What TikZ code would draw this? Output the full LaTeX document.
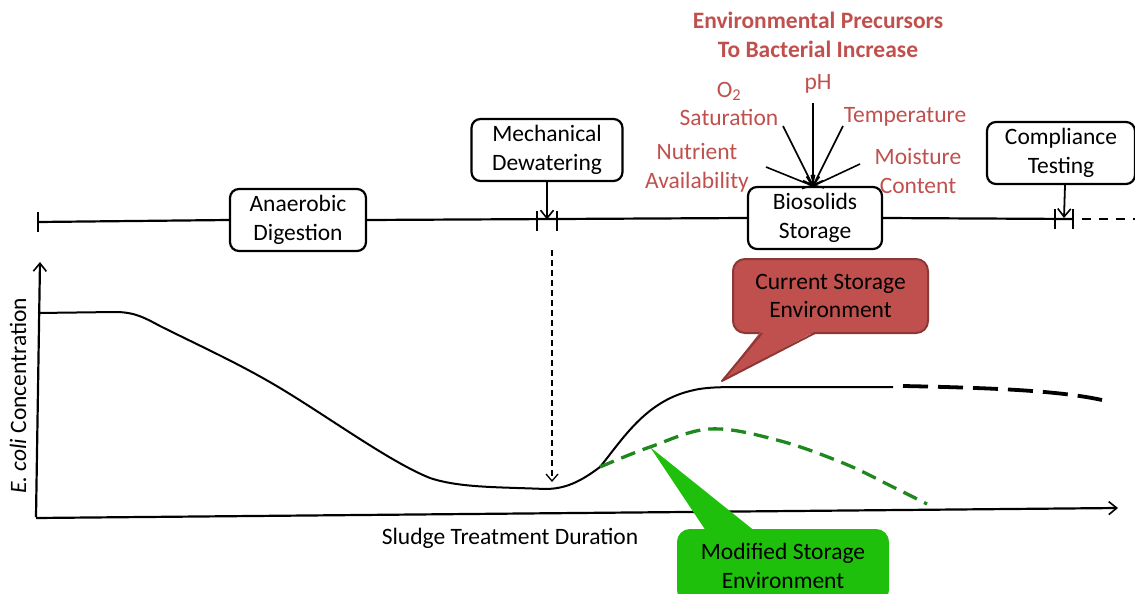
\documentclass[tikz,border=0pt]{standalone}
\usepackage{fontspec}
\setmainfont{Carlito}
\usetikzlibrary{arrows.meta,calc}
\definecolor{redtext}{RGB}{192,80,77}
\definecolor{redfill}{RGB}{192,80,77}
\definecolor{redline}{RGB}{140,56,54}
\definecolor{greenfill}{RGB}{30,192,12}
\definecolor{greendash}{RGB}{30,135,30}
\begin{document}
\begin{tikzpicture}[x=1pt,y=-1pt,
  every node/.style={font=\fontsize{23.5}{28.7}\selectfont, align=center, inner sep=0pt},
  stagebox/.style={draw, line width=2.2pt, rounded corners=9pt, fill=white, minimum height=62pt},
  redlabel/.style={text=redtext},
  tip/.style={-{Straight Barb[length=8pt,width=13pt,line width=1.6pt]}},
  axisline/.style={line width=2.2pt},
  curve/.style={line width=2pt},
  callred/.style={fill=redfill, draw=redline, line width=2pt},
  callgreen/.style={fill=greenfill, draw=greenfill, line width=2pt},
]
\useasboundingbox (0,0) rectangle (1135,594);
% title and factors
\node[redlabel, font=\fontsize{23.5}{28.5}\selectfont\bfseries] (title) at (818,35) {Environmental Precursors\\To Bacterial Increase};
\node[redlabel] (ph) at (818,84) {pH};
\node[redlabel] (o2) at (729,104) {O\textsubscript{2}\\Saturation};
\node[redlabel] (temp) at (905,117) {Temperature};
\node[redlabel] (nut) at (697,168) {Nutrient\\Availability};
\node[redlabel] (moist) at (918,171) {Moisture\\Content};
% stage boxes
\node[stagebox, minimum width=136pt] (anaer) at (298,220) {Anaerobic\\Digestion};
\node[stagebox, minimum width=151pt] (mech) at (547,150) {Mechanical\\Dewatering};
\node[stagebox, minimum width=134pt] (bio) at (815,218) {Biosolids\\Storage};
\node[stagebox, minimum width=148pt] (comp) at (1061,153) {Compliance\\Testing};
% timeline
\coordinate (tstart) at (38,222);
\coordinate (m1) at (537,220.5);
\coordinate (m2) at (557,220.5);
\coordinate (c1) at (1055,219);
\coordinate (c2) at (1073,219);
\coordinate (tend) at (1135,219);
\draw[axisline] (tstart) -- (anaer.west);
\draw[axisline] (anaer.east) -- (bio.west);
\draw[axisline] (bio.east) -- (c2);
\draw[axisline, dash pattern=on 9pt off 8pt] ([xshift=9pt]c2) -- (tend);
\foreach \p in {tstart,m1,m2,c1,c2}
  \draw[axisline] ([yshift=-10pt]\p) -- ([yshift=10pt]\p);
\draw[line width=1.8pt, tip] (mech.south) -- ($(m1)!0.5!(m2)+(0,-1)$);
\draw[line width=1.8pt, tip] ([xshift=4pt]comp.south) -- ($(c1)!0.5!(c2)+(0,-1)$);
% precursor arrows
\coordinate (conv) at (813,186);
\coordinate (phs) at (813,103);
\coordinate (o2s) at (783,126);
\coordinate (temps) at (843,126);
\coordinate (nuts) at (766,167);
\coordinate (moists) at (860,164);
\foreach \s in {phs,o2s,temps,nuts,moists}
  \draw[line width=1.6pt, tip] (\s) -- (conv);
% axes
\coordinate (origin) at (36,517);
\coordinate (ytop) at (40,262);
\coordinate (xend) at (1118,508);
\draw[axisline, tip] (origin) -- (ytop);
\draw[axisline, tip] ([yshift=-1pt]origin) -- (xend);
\node[rotate=90] (ylab) at (18,396) {\textit{E. coli} Concentration};
\node (xlab) at (510,538) {Sludge Treatment Duration};
% dashed arrow from dewatering
\coordinate (dtop) at (552,250);
\coordinate (dbot) at (552,482);
\draw[line width=1.3pt, dash pattern=on 6pt off 4pt, -{Straight Barb[length=7pt,width=12pt,line width=1.3pt]}] (dtop) -- (dbot);
% main curve
\draw[curve] (38,313) -- (115,312) .. controls (135,312) and (145,318) .. (160,326)
  .. controls (200,346) and (240,364) .. (280,388)
  .. controls (330,418) and (390,462) .. (430,478)
  .. controls (460,488) and (500,487) .. (545,489)
  .. controls (565,489) and (580,482) .. (600,467)
  .. controls (622,440) and (645,402) .. (690,391)
  .. controls (705,387) and (720,387) .. (750,387) -- (893,387);
\draw[line width=3.8pt, dash pattern=on 25pt off 10pt] (903,386) .. controls (1000,388) and (1060,391) .. (1102,400);
% green dashed curve
\draw[line width=3.3pt, greendash, dash pattern=on 15pt off 8pt] plot[smooth, tension=0.6] coordinates {(600,467) (650,447) (710,429) (777,440) (843,463) (893,487) (927,504)};
% red callout
\node[callred, rounded corners=12pt, minimum width=195pt, minimum height=74pt] (cur) at (830.5,296) {Current Storage\\Environment};
\fill[redfill] (761,331) -- (722,381) -- (816,331) -- cycle;
\draw[redline, line width=2pt, line join=round] (762,333) -- (722,381) -- (815,333);
% green callout
\fill[greenfill] (712,540) -- (650,447) -- (766,540) -- cycle;
\node[callgreen, rounded corners=12pt, minimum width=210pt, minimum height=72pt] (mod) at (783,566) {Modified Storage\\Environment};
\end{tikzpicture}
\end{document}
